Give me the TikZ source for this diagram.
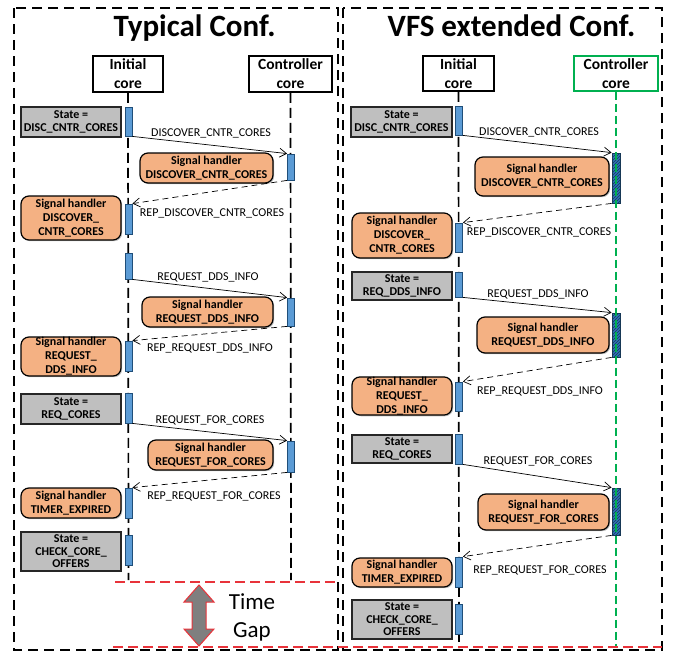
\documentclass[tikz,border=0pt]{standalone}
\usepackage{fontspec}
\setmainfont{Carlito}
\usetikzlibrary{arrows.meta,patterns,shadows}

\definecolor{stategray}{HTML}{BFBFBF}
\definecolor{handlerorange}{HTML}{F4B183}
\definecolor{barblue}{HTML}{5B9BD5}
\definecolor{bardark}{HTML}{1F4E79}
\definecolor{hatchfill}{HTML}{2E75B6}
\definecolor{hatchline}{HTML}{17375E}
\definecolor{lifegreen}{HTML}{00B050}
\definecolor{gapred}{HTML}{E8333A}
\definecolor{edgegray}{HTML}{262626}
\definecolor{gapfill}{HTML}{7F7F7F}

\tikzset{
  softshadow/.style={drop shadow={shadow xshift=1.2pt,shadow yshift=-1.2pt,opacity=.25,fill=black}},
  statebox/.style={draw=edgegray, line width=1.3pt, fill=stategray, align=center,
    inner sep=0pt, font=\fontsize{12}{12.5}\selectfont\bfseries, softshadow},
  handlerbox/.style={draw=black, line width=1.2pt, rounded corners=8pt, fill=handlerorange,
    align=center, inner sep=0pt, font=\fontsize{12}{14}\selectfont\bfseries, softshadow},
  corehead/.style={draw=black, line width=1.6pt, fill=white, align=center, inner sep=0pt,
    font=\fontsize{15.5}{19}\selectfont\bfseries},
  actbar/.style={draw=bardark, line width=0.8pt, fill=barblue, minimum width=7pt, inner sep=0pt},
  hatchbar/.style={draw=bardark!70!black, line width=0.8pt, fill=hatchfill, minimum width=8pt, inner sep=0pt,
    postaction={pattern=north east lines, pattern color=hatchline}},
  msg/.style={-{Straight Barb[length=7pt,width=9pt]}, line width=0.7pt},
  reply/.style={msg, dash pattern=on 6pt off 4pt},
  lbl/.style={font=\fontsize{12}{14}\selectfont, inner sep=0pt},
  lifeline/.style={line width=1.7pt, dash pattern=on 10pt off 5pt},
  greenline/.style={draw=lifegreen, line width=1.7pt, dash pattern=on 8pt off 4pt},
  panel/.style={line width=1.6pt, dash pattern=on 10pt off 6pt},
  gapline/.style={draw=gapred, line width=1.2pt, dash pattern=on 10pt off 5pt},
  paneltitle/.style={font=\fontsize{31}{31}\selectfont\bfseries, anchor=base, inner sep=0pt},
}

% activation bar: name, x, top y, bottom y, style
\newcommand\mkbar[5]{\node[#5, minimum height={(#4-#3)*1pt}] (#1) at (#2,{(#3+#4)/2}) {};}

\begin{document}
\begin{tikzpicture}[x=1pt,y=-1pt]
\useasboundingbox (0,0) rectangle (673,653);

% ---------------- panels ----------------
\draw[panel] (14,8) rectangle (338,650);
\draw[panel] (343,8) rectangle (662,650);

\node[paneltitle] (titleL) at (194.5,37) {Typical Conf.};
\node[paneltitle] (titleR) at (511.5,36) {VFS extended Conf.};

% ---------------- lifeline heads ----------------
\node[corehead, minimum width=70pt, minimum height=36pt] (hL1) at (128,74) {Initial\\core};
\node[corehead, minimum width=83pt, minimum height=36pt] (hL2) at (290.5,74) {Controller\\core};
\node[corehead, minimum width=71pt, minimum height=35pt] (hR1) at (458.5,73.5) {Initial\\core};
\node[corehead, draw=lifegreen, minimum width=84pt, minimum height=35pt] (hR2) at (616,73.5) {Controller\\core};

\coordinate (eL1) at (128.5,580);
\coordinate (eL2) at (291,580);
\coordinate (eR1) at (459,648);
\coordinate (eR2) at (616,648);

\draw[lifeline] (hL1.south) -- (eL1);
\draw[lifeline] (hL2.south) -- (eL2);
\draw[lifeline] (hR1.south) -- (eR1);

% ---------------- typical configuration ----------------
\mkbar{bL1}{128.5}{107}{136}{actbar}
\mkbar{bL2}{128.5}{204}{234}{actbar}
\mkbar{bL3}{128.5}{253}{279}{actbar}
\mkbar{bL4}{128.5}{341}{371}{actbar}
\mkbar{bL5}{128.5}{393}{423}{actbar}
\mkbar{bL6}{128.5}{488}{518}{actbar}
\mkbar{bL7}{128.5}{535}{565}{actbar}
\mkbar{cL1}{291}{154}{180}{actbar}
\mkbar{cL2}{291}{298}{326}{actbar}
\mkbar{cL3}{291}{441}{472}{actbar}

\node[statebox, minimum width=100pt, minimum height=30pt] (sL1) at (71,122) {State =\\DISC\_CNTR\_CORES};
\node[handlerbox, minimum width=133pt, minimum height=30pt] (hdL1) at (206.5,168) {Signal handler\\DISCOVER\_CNTR\_CORES};
\node[handlerbox, minimum width=100pt, minimum height=44pt] (hdL2) at (71,218) {Signal handler\\DISCOVER\_\\CNTR\_CORES};
\node[handlerbox, minimum width=131pt, minimum height=30pt] (hdL3) at (207.5,312) {Signal handler\\REQUEST\_DDS\_INFO};
\node[handlerbox, minimum width=100pt, minimum height=39pt] (hdL4) at (71,356.5) {Signal handler\\REQUEST\_\\DDS\_INFO};
\node[statebox, minimum width=100pt, minimum height=30pt] (sL2) at (71,409) {State =\\REQ\_CORES};
\node[handlerbox, minimum width=125pt, minimum height=30pt] (hdL5) at (210.5,455) {Signal handler\\REQUEST\_FOR\_CORES};
\node[handlerbox, minimum width=100pt, minimum height=30pt] (hdL6) at (71,503) {Signal handler\\TIMER\_EXPIRED};
\node[statebox, minimum width=100pt, minimum height=39pt] (sL3) at (71,551.5) {State =\\CHECK\_CORE\_\\OFFERS};

\draw[msg] (bL1.south east) -- (cL1.north west);
\draw[reply] (cL1.south west) -- (bL2.north east);
\draw[msg] (bL3.south east) -- (cL2.north west);
\draw[reply] (cL2.south west) -- (bL4.north east);
\draw[msg] (bL5.south east) -- (cL3.north west);
\draw[reply] (cL3.south west) -- (bL6.north east);

\node[lbl] (mL1) at (211,133) {DISCOVER\_CNTR\_CORES};
\node[lbl] (mL2) at (212,213) {REP\_DISCOVER\_CNTR\_CORES};
\node[lbl] (mL3) at (208,277) {REQUEST\_DDS\_INFO};
\node[lbl] (mL4) at (210,348) {REP\_REQUEST\_DDS\_INFO};
\node[lbl] (mL5) at (210,420) {REQUEST\_FOR\_CORES};
\node[lbl] (mL6) at (214,496) {REP\_REQUEST\_FOR\_CORES};

% ---------------- VFS extended configuration ----------------
\mkbar{bR1}{459}{106}{135}{actbar}
\mkbar{bR2}{459}{223}{252}{actbar}
\mkbar{bR3}{459}{272}{297}{actbar}
\mkbar{bR4}{459}{382}{411}{actbar}
\mkbar{bR5}{459}{434}{464}{actbar}
\mkbar{bR6}{459}{557}{587}{actbar}
\mkbar{bR7}{459}{604}{634}{actbar}
\mkbar{cR1}{616}{153}{203}{hatchbar}
\mkbar{cR2}{616}{313}{357}{hatchbar}
\mkbar{cR3}{616}{488}{535}{hatchbar}

\node[statebox, minimum width=101pt, minimum height=30pt] (sR1) at (401.5,122) {State =\\DISC\_CNTR\_CORES};
\node[handlerbox, minimum width=134pt, minimum height=39pt] (hdR1) at (542,176.5) {Signal handler\\DISCOVER\_CNTR\_CORES};
\node[handlerbox, minimum width=100pt, minimum height=45pt] (hdR2) at (402,235.5) {Signal handler\\DISCOVER\_\\CNTR\_CORES};
\node[statebox, minimum width=100pt, minimum height=28pt] (sR2) at (402,286) {State =\\REQ\_DDS\_INFO};
\node[handlerbox, minimum width=132pt, minimum height=36pt] (hdR3) at (543,335) {Signal handler\\REQUEST\_DDS\_INFO};
\node[handlerbox, minimum width=100pt, minimum height=38pt] (hdR4) at (402,396) {Signal handler\\REQUEST\_\\DDS\_INFO};
\node[statebox, minimum width=100pt, minimum height=28pt] (sR3) at (402,449) {State =\\REQ\_CORES};
\node[handlerbox, minimum width=131pt, minimum height=36pt] (hdR5) at (543.5,512) {Signal handler\\REQUEST\_FOR\_CORES};
\node[handlerbox, minimum width=100pt, minimum height=29pt] (hdR6) at (402,572.5) {Signal handler\\TIMER\_EXPIRED};
\node[statebox, minimum width=100pt, minimum height=39pt] (sR4) at (402,619.5) {State =\\CHECK\_CORE\_\\OFFERS};

\draw[msg] (bR1.south east) -- (cR1.north west);
\draw[reply] (cR1.south west) -- (bR2.north east);
\draw[msg] (bR3.south east) -- (cR2.north west);
\draw[reply] (cR2.south west) -- (bR4.north east);
\draw[msg] (bR5.south east) -- (cR3.north west);
\draw[reply] (cR3.south west) -- (bR6.north east);

\node[lbl] (mR1) at (539,132) {DISCOVER\_CNTR\_CORES};
\node[lbl] (mR2) at (539,232) {REP\_DISCOVER\_CNTR\_CORES};
\node[lbl] (mR3) at (538,294) {REQUEST\_DDS\_INFO};
\node[lbl] (mR4) at (540,391) {REP\_REQUEST\_DDS\_INFO};
\node[lbl] (mR5) at (538,461) {REQUEST\_FOR\_CORES};
\node[lbl] (mR6) at (540,570) {REP\_REQUEST\_FOR\_CORES};

% green controller lifeline runs over its hatched bars
\draw[greenline] (hR2.south) -- (eR2);

% ---------------- time gap ----------------
\draw[gapline] (115,582) -- (338,582);
\draw[gapline] (113,647) -- (662,647);
\draw[fill=gapfill, draw=gapred, line width=1pt, line join=miter]
  (199,585) -- (214,602) -- (206,602) -- (206,629) -- (214,629) -- (199,646)
  -- (184,629) -- (192,629) -- (192,602) -- (184,602) -- cycle;
\node[font=\fontsize{23}{23}\selectfont, inner sep=0pt] (gapT) at (252,602) {Time};
\node[font=\fontsize{23}{23}\selectfont, inner sep=0pt] (gapG) at (252,632) {Gap};

\end{tikzpicture}
\end{document}
